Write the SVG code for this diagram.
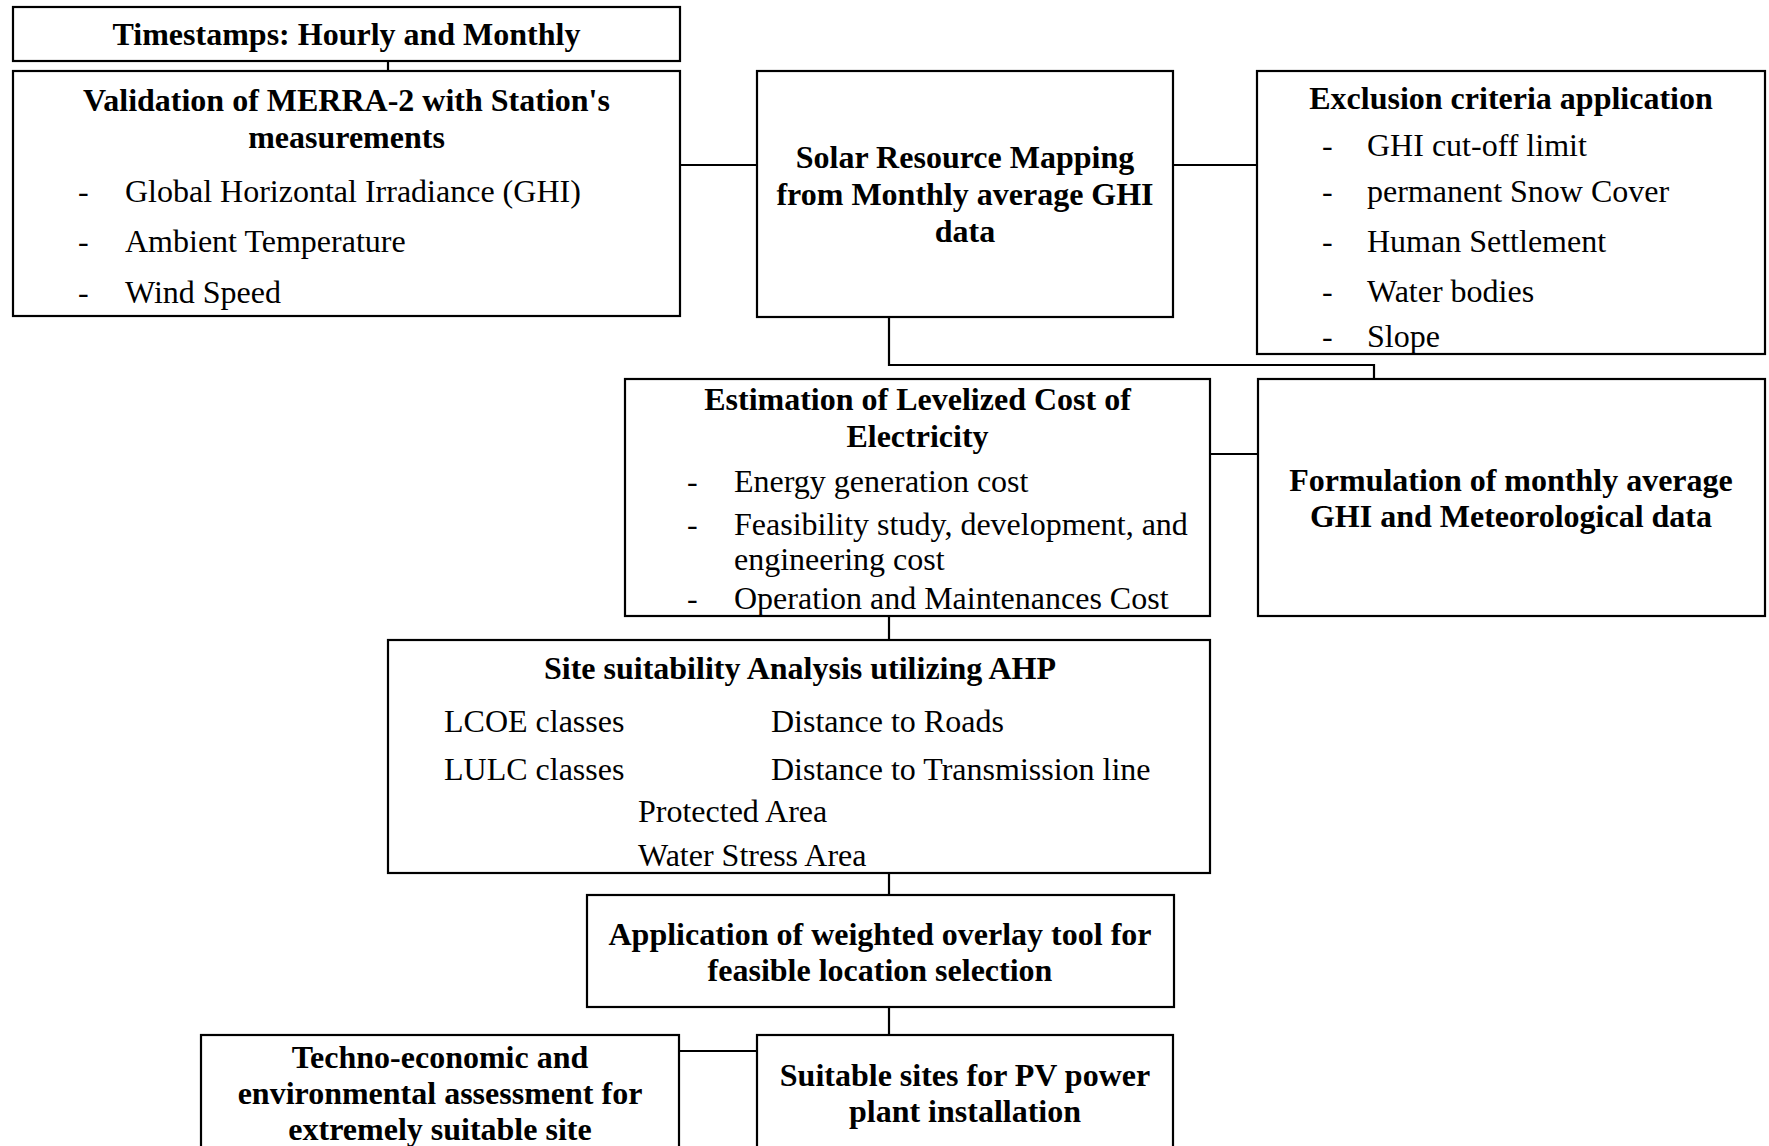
<svg xmlns="http://www.w3.org/2000/svg" width="1769" height="1146" viewBox="0 0 1769 1146">
<style>
.box{fill:#fff;stroke:#000;stroke-width:2.2}
.ln{fill:none;stroke:#000;stroke-width:2.2}
text{font-family:"Liberation Serif","Times New Roman",serif;font-size:32px;fill:#000}
.b{font-weight:bold;text-anchor:middle}
</style>
<rect width="1769" height="1146" fill="#fff"/>
<g id="connectors">
<line class="ln" x1="388" y1="61" x2="388" y2="71"/>
<line class="ln" x1="680" y1="165" x2="757" y2="165"/>
<line class="ln" x1="1173" y1="165" x2="1257" y2="165"/>
<polyline class="ln" points="889,317 889,365 1374,365 1374,379"/>
<line class="ln" x1="1210" y1="454" x2="1258" y2="454"/>
<line class="ln" x1="889" y1="616" x2="889" y2="640"/>
<line class="ln" x1="889" y1="873" x2="889" y2="895"/>
<line class="ln" x1="889" y1="1007" x2="889" y2="1035"/>
<line class="ln" x1="679" y1="1051" x2="757" y2="1051"/>
</g>
<g id="timestamps">
<rect class="box" x="13" y="7" width="667" height="54"/>
<text class="b" x="346.5" y="45">Timestamps: Hourly and Monthly</text>
</g>
<g id="validation">
<rect class="box" x="13" y="71" width="667" height="245"/>
<text class="b" x="346.5" y="111">Validation of MERRA-2 with Station's</text>
<text class="b" x="346.5" y="148">measurements</text>
<text x="78" y="202">-</text><text x="125" y="202">Global Horizontal Irradiance (GHI)</text>
<text x="78" y="252">-</text><text x="125" y="252">Ambient Temperature</text>
<text x="78" y="303">-</text><text x="125" y="303">Wind Speed</text>
</g>
<g id="solar">
<rect class="box" x="757" y="71" width="416" height="246"/>
<text class="b" x="965" y="168">Solar Resource Mapping</text>
<text class="b" x="965" y="205">from Monthly average GHI</text>
<text class="b" x="965" y="242">data</text>
</g>
<g id="exclusion">
<rect class="box" x="1257" y="71" width="508" height="283"/>
<text class="b" x="1511" y="108.5">Exclusion criteria application</text>
<text x="1322" y="156">-</text><text x="1367" y="156">GHI cut-off limit</text>
<text x="1322" y="202">-</text><text x="1367" y="202">permanent Snow Cover</text>
<text x="1322" y="252">-</text><text x="1367" y="252">Human Settlement</text>
<text x="1322" y="302">-</text><text x="1367" y="302">Water bodies</text>
<text x="1322" y="347">-</text><text x="1367" y="347">Slope</text>
</g>
<g id="lcoe">
<rect class="box" x="625" y="379" width="585" height="237"/>
<text class="b" x="917.5" y="410">Estimation of Levelized Cost of</text>
<text class="b" x="917.5" y="447">Electricity</text>
<text x="687" y="492">-</text><text x="734" y="492">Energy generation cost</text>
<text x="687" y="535">-</text><text x="734" y="535">Feasibility study, development, and</text>
<text x="734" y="570">engineering cost</text>
<text x="687" y="609">-</text><text x="734" y="609">Operation and Maintenances Cost</text>
</g>
<g id="formulation">
<rect class="box" x="1258" y="379" width="507" height="237"/>
<text class="b" x="1511" y="491">Formulation of monthly average</text>
<text class="b" x="1511" y="527">GHI and Meteorological data</text>
</g>
<g id="site">
<rect class="box" x="388" y="640" width="822" height="233"/>
<text class="b" x="800" y="679">Site suitability Analysis utilizing AHP</text>
<text x="444" y="732">LCOE classes</text><text x="771" y="732">Distance to Roads</text>
<text x="444" y="780">LULC classes</text><text x="771" y="780">Distance to Transmission line</text>
<text x="638" y="822">Protected Area</text>
<text x="638" y="866">Water Stress Area</text>
</g>
<g id="weighted">
<rect class="box" x="587" y="895" width="587" height="112"/>
<text class="b" x="880" y="945">Application of weighted overlay tool for</text>
<text class="b" x="880" y="981">feasible location selection</text>
</g>
<g id="techno">
<rect class="box" x="201" y="1035" width="478" height="200"/>
<text class="b" x="440" y="1068">Techno-economic and</text>
<text class="b" x="440" y="1104">environmental assessment for</text>
<text class="b" x="440" y="1140">extremely suitable site</text>
</g>
<g id="suitable">
<rect class="box" x="757" y="1035" width="416" height="200"/>
<text class="b" x="965" y="1086">Suitable sites for PV power</text>
<text class="b" x="965" y="1122">plant installation</text>
</g>
</svg>
